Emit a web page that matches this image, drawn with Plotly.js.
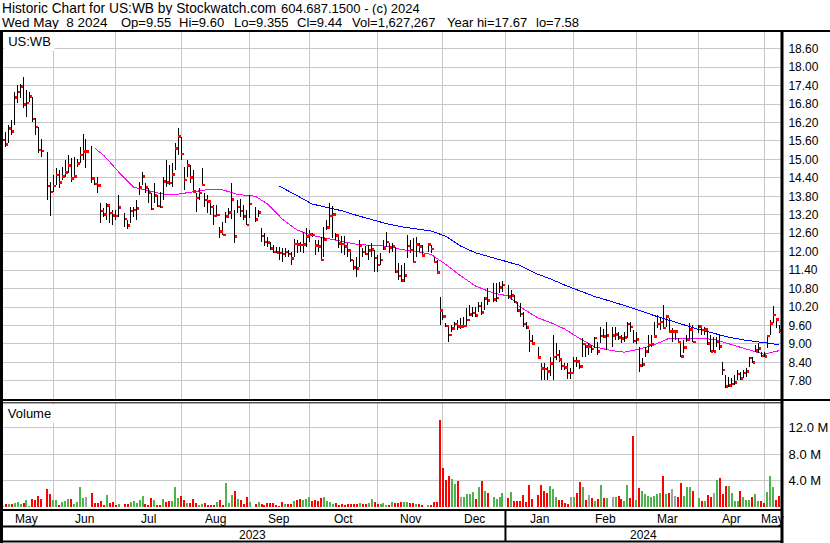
<!DOCTYPE html>
<html><head><meta charset="utf-8">
<script src="https://cdn.plot.ly/plotly-3.0.1.min.js"></script>
<style>html,body{margin:0;padding:0;background:#fff}#chart{width:830px;height:543px}
#chart .scatterlayer path, #chart .barlayer path{shape-rendering:crispEdges}</style>
</head><body><div id="chart"></div>
<script>
// ---------------- DATA ----------------
const firstDay = '2023-05-09', lastDay = '2024-05-08';
const holidays = ['2023-05-29','2023-06-19','2023-07-04','2023-09-04','2023-11-23','2023-12-25',
                  '2024-01-01','2024-01-15','2024-02-19','2024-03-29'];

const high = [
 15.79,15.90,16.11,16.28,17.20,17.42,17.44,17.67,17.26,17.20,17.04,16.34,16.06,15.66,15.25,14.28,
 14.49,14.71,14.66,14.76,14.98,15.14,15.03,15.09,15.00,15.39,15.83,15.66,15.44,14.40,14.44,13.57,13.41,13.57,13.46,13.35,13.35,
 13.84,13.25,13.03,13.46,13.46,13.68,14.28,14.60,14.22,14.06,13.92,14.22,13.84,13.95,14.44,14.98,14.82,14.87,15.52,16.01,
 15.74,14.76,14.98,14.82,14.66,13.90,14.06,14.71,13.90,13.84,13.68,13.52,13.52,12.81,12.97,13.30,13.41,14.24,13.35,13.68,13.70,13.52,13.35,
 13.84,13.46,13.35,12.76,12.62,12.49,12.32,12.22,12.16,12.16,12.11,12.11,12.05,12.00,12.40,12.38,12.32,12.65,12.76,12.70,
 12.62,12.38,12.38,12.49,12.81,13.03,13.57,13.48,12.60,12.49,12.51,12.51,12.27,12.05,11.73,11.84,12.38,12.11,12.18,12.22,12.29,12.05,
 11.90,11.95,12.38,12.65,12.27,12.27,12.16,11.62,11.57,11.62,12.54,12.38,12.43,12.47,12.27,12.22,12.27,12.22,11.84,11.73,10.54,
 10.10,9.67,9.61,9.61,9.72,9.78,9.83,9.89,10.16,10.27,10.21,10.21,10.37,10.37,10.54,10.81,10.97,10.99,11.02,11.06,
 10.92,10.75,10.59,10.37,10.32,10.05,9.72,9.45,9.29,8.91,8.37,8.37,8.26,8.56,9.29,9.02,8.80,8.48,8.37,8.37,8.21,
 8.59,8.59,8.48,9.18,9.02,9.02,8.96,9.24,9.07,9.56,9.50,9.72,9.56,9.56,9.40,9.29,9.40,9.72,9.70,9.45,
 9.40,8.91,8.53,8.91,9.29,9.29,9.72,9.94,9.89,10.27,9.94,9.83,9.51,9.45,9.18,9.02,9.13,9.29,9.67,9.61,
 9.61,9.51,9.56,9.45,9.29,9.24,9.24,9.29,8.42,7.99,7.93,7.88,7.99,8.15,8.10,8.15,8.21,8.59,8.59,8.96,9.02,8.75,
 8.75,9.29,9.78,10.24,9.83,9.60];

const low = [
 15.39,15.39,15.52,15.79,16.12,16.82,16.99,16.66,16.39,16.88,16.23,15.79,15.20,15.09,13.68,13.16,
 13.95,14.17,14.06,14.33,14.44,14.55,14.28,14.38,14.76,14.89,14.98,14.71,14.24,14.17,13.90,12.92,13.14,13.03,12.92,12.87,13.03,
 13.14,12.81,12.73,12.92,13.14,13.03,13.84,14.17,13.90,13.57,13.35,13.57,13.46,13.41,13.68,14.11,14.17,14.11,14.66,15.14,
 14.98,14.00,14.44,14.22,13.90,13.30,13.68,14.17,13.46,13.25,13.19,12.87,13.14,12.46,12.54,12.92,13.08,13.05,12.29,13.25,13.14,13.03,12.87,
 13.08,12.97,13.12,12.33,12.18,12.16,12.05,11.95,11.95,11.73,11.67,11.84,11.84,11.57,11.84,11.95,12.00,11.95,12.16,12.33,
 12.47,11.89,12.00,11.71,11.84,12.70,12.81,12.43,12.38,12.11,11.95,11.89,11.84,11.67,11.40,11.19,11.51,11.84,11.90,11.73,11.84,11.35,
 11.35,11.57,12.05,12.16,11.95,12.00,11.30,11.08,11.02,11.02,11.78,11.95,11.67,11.84,12.00,11.88,12.00,11.95,11.62,11.30,9.61,
 9.78,9.56,9.07,9.40,9.45,9.45,9.50,9.56,9.61,9.90,9.89,9.89,10.05,9.94,10.10,10.26,10.35,10.35,10.65,10.70,
 10.45,10.42,10.32,10.05,9.89,9.55,9.50,8.75,9.02,8.53,7.83,7.83,7.83,7.95,7.83,8.48,8.40,8.15,8.15,7.87,7.85,
 8.10,8.26,8.20,8.59,8.59,8.64,8.70,8.86,8.64,9.02,9.20,8.80,8.91,9.13,9.13,9.02,9.07,9.18,9.40,9.04,
 9.00,8.10,8.26,8.59,8.69,8.91,9.24,9.51,9.45,9.51,9.56,9.35,9.07,9.13,9.02,8.59,8.69,9.07,9.13,9.07,
 9.35,9.29,9.29,8.96,8.75,8.75,8.91,8.80,7.99,7.58,7.60,7.61,7.66,7.83,7.83,7.88,7.93,8.26,8.37,8.75,8.69,8.59,
 8.59,8.86,9.29,9.67,9.51,9.355];

const close = [
 15.63,15.48,16.01,15.90,17.01,17.20,17.37,16.79,16.83,17.04,16.31,16.06,15.31,15.28,14.13,13.94,
 14.13,14.49,14.25,14.44,14.57,14.80,14.38,14.44,14.86,15.14,15.25,15.25,14.38,14.20,14.15,13.32,13.21,13.50,13.25,13.17,13.16,
 13.43,13.07,12.85,13.32,13.35,13.40,14.08,14.44,14.09,13.93,13.38,13.82,13.48,13.46,14.28,14.25,14.24,14.51,15.36,15.74,
 15.17,14.33,14.80,14.41,13.95,13.75,13.90,14.17,13.68,13.63,13.46,13.16,13.19,12.65,12.54,13.14,13.27,13.70,12.49,13.46,13.33,13.14,12.87,
 13.55,13.05,13.28,12.51,12.32,12.29,12.10,11.99,11.97,11.95,11.93,11.99,11.93,11.77,12.25,12.24,12.21,12.23,12.49,12.56,
 12.54,12.20,12.16,11.73,12.40,12.78,13.16,13.21,12.52,12.27,12.25,12.16,12.03,11.73,11.48,11.46,12.20,11.99,11.93,12.03,12.07,11.80,
 11.56,11.73,12.11,12.32,12.14,12.17,11.35,11.21,11.06,11.23,12.19,12.05,11.67,12.23,12.16,11.88,12.24,12.09,11.67,11.32,10.08,
 9.89,9.59,9.29,9.50,9.64,9.56,9.56,9.59,9.78,9.96,10.00,9.92,10.23,10.02,10.47,10.41,10.45,10.50,10.84,10.92,
 10.54,10.58,10.37,10.08,9.97,9.65,9.53,9.10,9.02,8.56,8.20,8.18,8.10,8.37,8.58,8.64,8.49,8.28,8.23,8.06,8.06,
 8.45,8.43,8.27,9.00,8.91,8.91,8.83,9.20,8.76,9.25,9.24,9.28,9.28,9.30,9.21,9.18,9.21,9.65,9.55,9.10,
 9.15,8.29,8.33,8.75,8.96,9.00,9.24,9.65,9.72,9.51,9.89,9.40,9.40,9.40,9.07,8.59,8.89,9.13,9.47,9.07,
 9.56,9.45,9.47,9.02,8.75,8.75,9.07,8.91,8.15,7.61,7.64,7.69,7.74,8.02,7.87,8.06,8.10,8.54,8.39,8.78,8.85,8.61,
 8.59,9.26,9.67,9.94,9.80,9.44];

// volume in millions of shares
const volumeM = [
 0.2,0.5,0.5,0.5,0.6,0.85,0.5,0.6,1.1,0.2,1.3,1.1,1.7,1.3,2.8,2.0,
 1.1,1.1,0.35,0.85,0.95,1.3,1.26,0.5,0.85,3.0,1.4,1.56,2.1,0.6,0.6,0.95,0.35,1.86,0.6,0.75,0.35,
 0.5,0.5,0.5,0.85,0.95,0.7,1.1,1.66,0.45,0.35,1.36,1.1,0.35,0.35,1.26,0.8,0.9,1.0,3.0,1.46,
 1.7,1.1,0.7,0.7,1.26,0.7,0.35,0.5,0.6,0.35,0.35,0.35,0.85,1.1,0.35,3.7,0.6,1.86,2.4,1.26,1.1,0.5,1.56,
 0.85,0.5,0.85,0.5,0.35,0.6,0.6,0.6,0.35,0.2,0.85,0.5,0.5,0.5,0.95,1.1,1.26,1.1,1.26,1.56,
 0.95,1.1,1.0,1.46,1.56,0.95,0.85,0.5,0.6,0.35,0.5,0.35,0.5,0.5,0.5,0.5,0.7,0.5,0.5,0.6,1.2,0.85,
 0.5,0.5,0.6,0.35,0.35,0.85,0.7,0.7,0.85,0.85,0.8,0.6,0.6,0.5,0.45,0.4,0.35,0.35,0.85,0.85,13.2,
 5.9,4.1,4.7,4.3,3.5,4.0,1.56,1.56,2.0,2.0,2.3,1.26,3.1,4.0,2.5,2.1,1.56,1.26,1.56,2.2,
 1.46,2.3,0.95,0.95,0.95,1.86,0.85,3.3,1.26,1.86,3.4,2.5,2.1,3.2,2.8,1.6,1.1,1.1,0.7,0.5,1.56,
 1.56,2.2,3.8,3.0,1.1,1.86,1.36,0.95,1.3,3.3,1.46,1.46,1.56,1.6,1.7,1.26,0.95,3.3,1.46,10.7,
 1.1,2.9,2.5,2.0,1.7,1.56,1.7,2.0,2.1,4.7,2.0,2.2,2.8,1.7,1.56,3.6,1.7,3.0,3.0,2.5,
 1.4,0.95,0.95,1.86,1.56,2.1,4.1,4.4,2.0,3.2,3.2,2.2,0.95,0.95,2.5,1.56,1.15,1.1,1.56,2.0,0.95,0.95,
 0.7,2.3,4.7,3.1,1.1,1.63];

// moving averages, read at weekly points
const ma1Dates = ['2023-06-21','2023-06-26','2023-07-03','2023-07-10','2023-07-17','2023-07-24','2023-07-31','2023-08-07',
 '2023-08-14','2023-08-21','2023-08-28','2023-09-05','2023-09-11','2023-09-18','2023-09-25','2023-10-02','2023-10-09',
 '2023-10-16','2023-10-23','2023-10-30','2023-11-06','2023-11-13','2023-11-20','2023-11-27','2023-12-04','2023-12-11',
 '2023-12-18','2023-12-26','2024-01-02','2024-01-08','2024-01-16','2024-01-22','2024-01-29','2024-02-05','2024-02-12',
 '2024-02-20','2024-02-26','2024-03-04','2024-03-11','2024-03-18','2024-03-25','2024-04-01','2024-04-08','2024-04-15',
 '2024-04-22','2024-04-29','2024-05-01','2024-05-06','2024-05-08'];
const ma1Values = [15.36,15.13,14.59,14.10,13.98,13.87,13.87,13.95,14.02,14.01,13.86,13.80,13.55,13.06,12.70,12.53,12.44,
 12.34,12.24,12.20,12.18,12.07,12.01,11.91,11.58,11.21,10.88,10.65,10.56,10.20,9.84,9.70,9.48,9.17,8.90,
 8.78,8.73,8.83,8.97,9.18,9.18,9.18,9.15,9.01,8.87,8.71,8.66,8.74,8.78];

const ma2Dates = ['2023-09-15','2023-09-18','2023-09-25','2023-10-02','2023-10-09','2023-10-16','2023-10-23','2023-10-30',
 '2023-11-06','2023-11-13','2023-11-20','2023-11-27','2023-12-04','2023-12-11','2023-12-18','2023-12-26','2024-01-02',
 '2024-01-08','2024-01-16','2024-01-22','2024-01-29','2024-02-05','2024-02-12','2024-02-20','2024-02-26','2024-03-04',
 '2024-03-11','2024-03-18','2024-03-25','2024-04-01','2024-04-08','2024-04-15','2024-04-22','2024-04-29','2024-05-06','2024-05-08'];
const ma2Values = [14.13,14.08,13.82,13.55,13.43,13.33,13.18,13.04,12.91,12.81,12.73,12.67,12.50,12.18,11.96,11.80,11.68,
 11.55,11.26,11.12,10.91,10.72,10.54,10.37,10.25,10.09,9.92,9.76,9.62,9.47,9.34,9.22,9.13,9.07,9.00,8.96];

const monthGridDates = ['2023-06-01','2023-06-30','2023-08-01','2023-09-01','2023-09-29','2023-11-01','2023-12-01',
 '2024-01-01','2024-02-01','2024-03-01','2024-04-01','2024-05-01'];
const monthLabels = ['May','Jun','Jul','Aug','Sep','Oct','Nov','Dec','Jan','Feb','Mar','Apr','May'];
const yearBreakDate = '2024-01-01';
const yearLabels = ['2023','2024'];
const priceTicks = [7.8,8.4,9.0,9.6,10.2,10.8,11.4,12.0,12.6,13.2,13.8,14.4,15.0,15.6,16.2,16.8,17.4,18.0,18.6];
const volTicks = [4e6,8e6,12e6];
const volTickText = ['4.0 M','8.0 M','12.0 M'];
const titleLine1 = ['Historic Chart for US:WB by Stockwatch.com', '604.687.1500 - (c) 2024'];
const titleLine2 = ['Wed May  8 2024', 'Op=9.55', 'Hi=9.60', 'Lo=9.355', 'Cl=9.44', 'Vol=1,627,267', 'Year hi=17.67', 'lo=7.58'];

// ---------------- helpers ----------------
const W = 830, H = 543, DAY = 86400000;
const t0 = Date.parse(firstDay + 'T00:00:00Z'), t1 = Date.parse(lastDay + 'T00:00:00Z');
function wd(s) { // weekday slot index from first day
  const t = Date.parse(s + 'T00:00:00Z'); let n = 0;
  for (let u = t0; u < t; u += DAY) { const g = new Date(u).getUTCDay(); if (g !== 0 && g !== 6) n++; }
  return n;
}
const xs = []; let slot = 0;
for (let u = t0; u <= t1; u += DAY) {
  const d = new Date(u), g = d.getUTCDay();
  if (g === 0 || g === 6) continue;
  const s = d.toISOString().slice(0, 10);
  if (!holidays.includes(s)) xs.push(slot);
  slot++;
}
const xMin = -0.9, xMax = xMin + 781 / 2.975;

const FONT = 'Liberation Sans, Arial, sans-serif';
const px = v => v / W, py = v => 1 - v / H;

// hi-lo segments
const hlX = [], hlY = [];
xs.forEach((x, i) => { hlX.push(x, x, null); hlY.push(low[i], high[i], null); });

const volColors = close.map((c, i) => i === 0 ? '#a0a0a0' : (c > close[i-1] ? '#4db34d' : (c < close[i-1] ? '#ff0000' : '#a0a0a0')));

const traces = [
  {type:'scatter', mode:'lines', x: ma1Dates.map(wd), y: ma1Values, line:{color:'#ff00ff', width:1}, xaxis:'x', yaxis:'y', hoverinfo:'skip'},
  {type:'scatter', mode:'lines', x: ma2Dates.map(wd), y: ma2Values, line:{color:'#0000ff', width:1}, xaxis:'x', yaxis:'y', hoverinfo:'skip'},
  {type:'scatter', mode:'lines', x: hlX, y: hlY, line:{color:'#000000', width:1}, xaxis:'x', yaxis:'y', hoverinfo:'skip', connectgaps:false},
  {type:'scatter', mode:'markers', x: xs.map(x => x + 0.5), y: close, marker:{symbol:'square', size:2.5, color:'#ff0000', line:{width:0}}, xaxis:'x', yaxis:'y', hoverinfo:'skip'},
  {type:'bar', x: xs, y: volumeM.map(v => v * 1e6), marker:{color: volColors, line:{width:0}}, width:0.67, xaxis:'x2', yaxis:'y2', hoverinfo:'skip'}
];

const gridIdx = monthGridDates.map(wd);
const edges = [xMin, ...gridIdx, xMax];
const annotations = [];
monthLabels.forEach((m, i) => {
  annotations.push({xref:'x', yref:'paper', x:(edges[i] + edges[i+1]) / 2, y: py(519), text:m, showarrow:false,
    xanchor:'center', yanchor:'middle', font:{family:FONT, size:12, color:'#000'}});
});
const yb = wd(yearBreakDate);
[[xMin, yb], [yb, xMax]].forEach((e, i) => {
  annotations.push({xref:'x', yref:'paper', x:(e[0] + e[1]) / 2, y: py(534.5), text:yearLabels[i], showarrow:false,
    xanchor:'center', yanchor:'middle', font:{family:FONT, size:12, color:'#000'}});
});
// header text, placed piecewise where each group starts in the reference
const line1X = [1, 280], line1Size = [13.75, 13];
titleLine1.forEach((t, i) => annotations.push({xref:'paper', yref:'paper', x:px(line1X[i]), y:py(0), text:t.replace(/ /g, '\u00a0'),
  showarrow:false, xanchor:'left', yanchor:'top', height:14, borderpad:0, valign:'middle',
  font:{family:FONT, size:line1Size[i], color:'#000'}}));
const line2X = [1, 120, 178, 233, 296, 351, 446, 535];
titleLine2.forEach((t, i) => annotations.push({xref:'paper', yref:'paper', x:px(line2X[i]), y:py(14.5), text:t.replace(/ /g, '\u00a0'),
  showarrow:false, xanchor:'left', yanchor:'top', height:14, borderpad:0, valign:'middle',
  font:{family:FONT, size: i === 0 ? 13.5 : 13, color:'#000'}}));
annotations.push({xref:'paper', yref:'paper', x:px(4), y:py(32), text:'US:WB', showarrow:false, xanchor:'left', yanchor:'top',
  width:49, height:17, align:'center', bgcolor:'#ffffff', borderpad:0, font:{family:FONT, size:13, color:'#000'}});
annotations.push({xref:'paper', yref:'paper', x:px(4), y:py(403.5), text:'Volume', showarrow:false, xanchor:'left', yanchor:'top',
  width:49, height:17, align:'center', bgcolor:'#ffffff', borderpad:0, font:{family:FONT, size:13, color:'#000'}});

function hline(y, x0, x1, w) { return {type:'line', xref:'paper', yref:'paper', x0:px(x0), x1:px(x1), y0:py(y), y1:py(y), line:{color:'#000', width:w}, layer:'above'}; }
function vline(x, y0, y1, w) { return {type:'line', xref:'paper', yref:'paper', x0:px(x), x1:px(x), y0:py(y0), y1:py(y1), line:{color:'#000', width:w}, layer:'above'}; }
const shapes = [
  hline(31, 0, 830, 2),
  hline(400, 0, 830, 2),
  hline(402.8, 0, 782, 1),
  hline(510, 0, 782, 2),
  hline(526.5, 0, 782, 2),
  hline(541.5, 0, 782, 2),
  vline(1.5, 30, 543, 3),
  vline(782, 30, 543, 3),
  {type:'line', xref:'x', yref:'paper', x0:yb, x1:yb, y0:py(510), y1:py(542), line:{color:'#000', width:2}, layer:'above'}
];

const gridColor = '#c8c8c8';
const layout = {
  width: W, height: H, margin:{l:0, r:0, t:0, b:0}, paper_bgcolor:'#fff', plot_bgcolor:'#fff', showlegend:false,
  bargap: 0,
  xaxis: {domain:[0, 781/W], range:[xMin, xMax], tickvals: gridIdx, showticklabels:false, ticks:'', showgrid:true,
          gridcolor:gridColor, gridwidth:1, zeroline:false, showline:false, anchor:'y', fixedrange:true},
  xaxis2:{domain:[0, 781/W], range:[xMin, xMax], tickvals: gridIdx, showticklabels:false, ticks:'', showgrid:true,
          gridcolor:gridColor, gridwidth:1, zeroline:false, showline:false, anchor:'y2', matches:'x', fixedrange:true},
  yaxis: {domain:[py(400), py(32)], range:[18.6 - (400 - 48.7)/30.75, 18.6 + (48.7 - 32)/30.75], side:'right', anchor:'x',
          tickvals: priceTicks, ticktext: priceTicks.map(v => v.toFixed(2)), ticks:'outside', ticklen:4, tickcolor:'rgba(0,0,0,0)',
          tickfont:{family:FONT, size:12, color:'#000'}, showgrid:true, gridcolor:gridColor, gridwidth:1, zeroline:false, showline:false, fixedrange:true},
  yaxis2:{domain:[py(507.3), py(402.5)], range:[0, 15.8e6], side:'right', anchor:'x2',
          tickvals: volTicks, ticktext: volTickText, ticks:'outside', ticklen:4, tickcolor:'rgba(0,0,0,0)',
          tickfont:{family:FONT, size:13, color:'#000'}, showgrid:true, gridcolor:gridColor, gridwidth:1, zeroline:false, showline:false, fixedrange:true},
  annotations, shapes
};
Plotly.newPlot('chart', traces, layout, {staticPlot:true, displayModeBar:false}).then(gd => {
  gd.querySelectorAll('.scatterlayer path, .barlayer path').forEach(p => { p.setAttribute('shape-rendering', 'crispEdges'); p.style.shapeRendering = 'crispEdges'; });
});
</script></body></html>
